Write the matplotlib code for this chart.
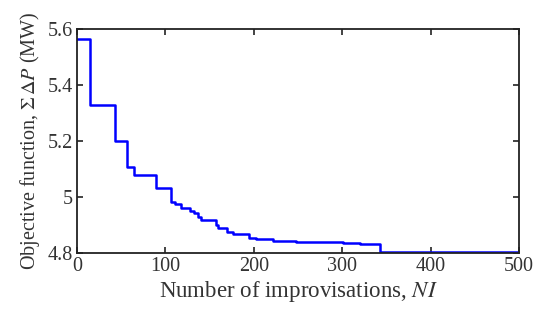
import numpy as np
import matplotlib
matplotlib.use("Agg")
import matplotlib.pyplot as plt

# step levels of the objective (start iteration of each level)
ni = [0, 15, 43, 57, 65, 89, 106, 111, 118, 128, 132, 137, 140, 157, 160,
      170, 176, 195, 203, 222, 248, 301, 320, 343, 500]
obj = [5.565, 5.329, 5.200, 5.108, 5.079, 5.031, 4.981, 4.975, 4.962, 4.951,
       4.942, 4.930, 4.918, 4.900, 4.888, 4.874, 4.867, 4.855, 4.849, 4.843,
       4.839, 4.836, 4.833, 4.805, 4.805]

xticks = [0, 100, 200, 300, 400, 500]
yticks = [4.8, 5.0, 5.2, 5.4, 5.6]
yticklabels = ["4.8", "5", "5.2", "5.4", "5.6"]

plt.rcParams['font.family'] = ['Liberation Serif', 'DejaVu Serif']
plt.rcParams['mathtext.fontset'] = 'stix'

fig = plt.figure(figsize=(5.34, 3.13), dpi=100)
ax = fig.add_axes([0.144, 0.192, 0.828, 0.715])
ax.plot(ni, obj, drawstyle='steps-post', color='#0000ff', lw=1.8)
ax.set_xlim(0, 500)
ax.set_ylim(4.8, 5.6)
ax.set_xticks(xticks)
ax.set_yticks(yticks)
ax.set_yticklabels(yticklabels)
ax.tick_params(direction='in', top=True, right=True, labelsize=14.5, pad=3,
               length=4, width=1.2, colors='#222222', labelcolor='#333333')
for s in ax.spines.values():
    s.set_linewidth(1.3)
    s.set_color('#222222')
ax.set_xlabel(r"Number of improvisations, $\mathit{NI}$", fontsize=16.5, color='#333333', labelpad=2)
ax.set_ylabel(r"Objective function, $\mathit{\Sigma\,\Delta P}$ (MW)", fontsize=14.5, color='#333333', labelpad=4)

fig.savefig("out.png", dpi=100)
